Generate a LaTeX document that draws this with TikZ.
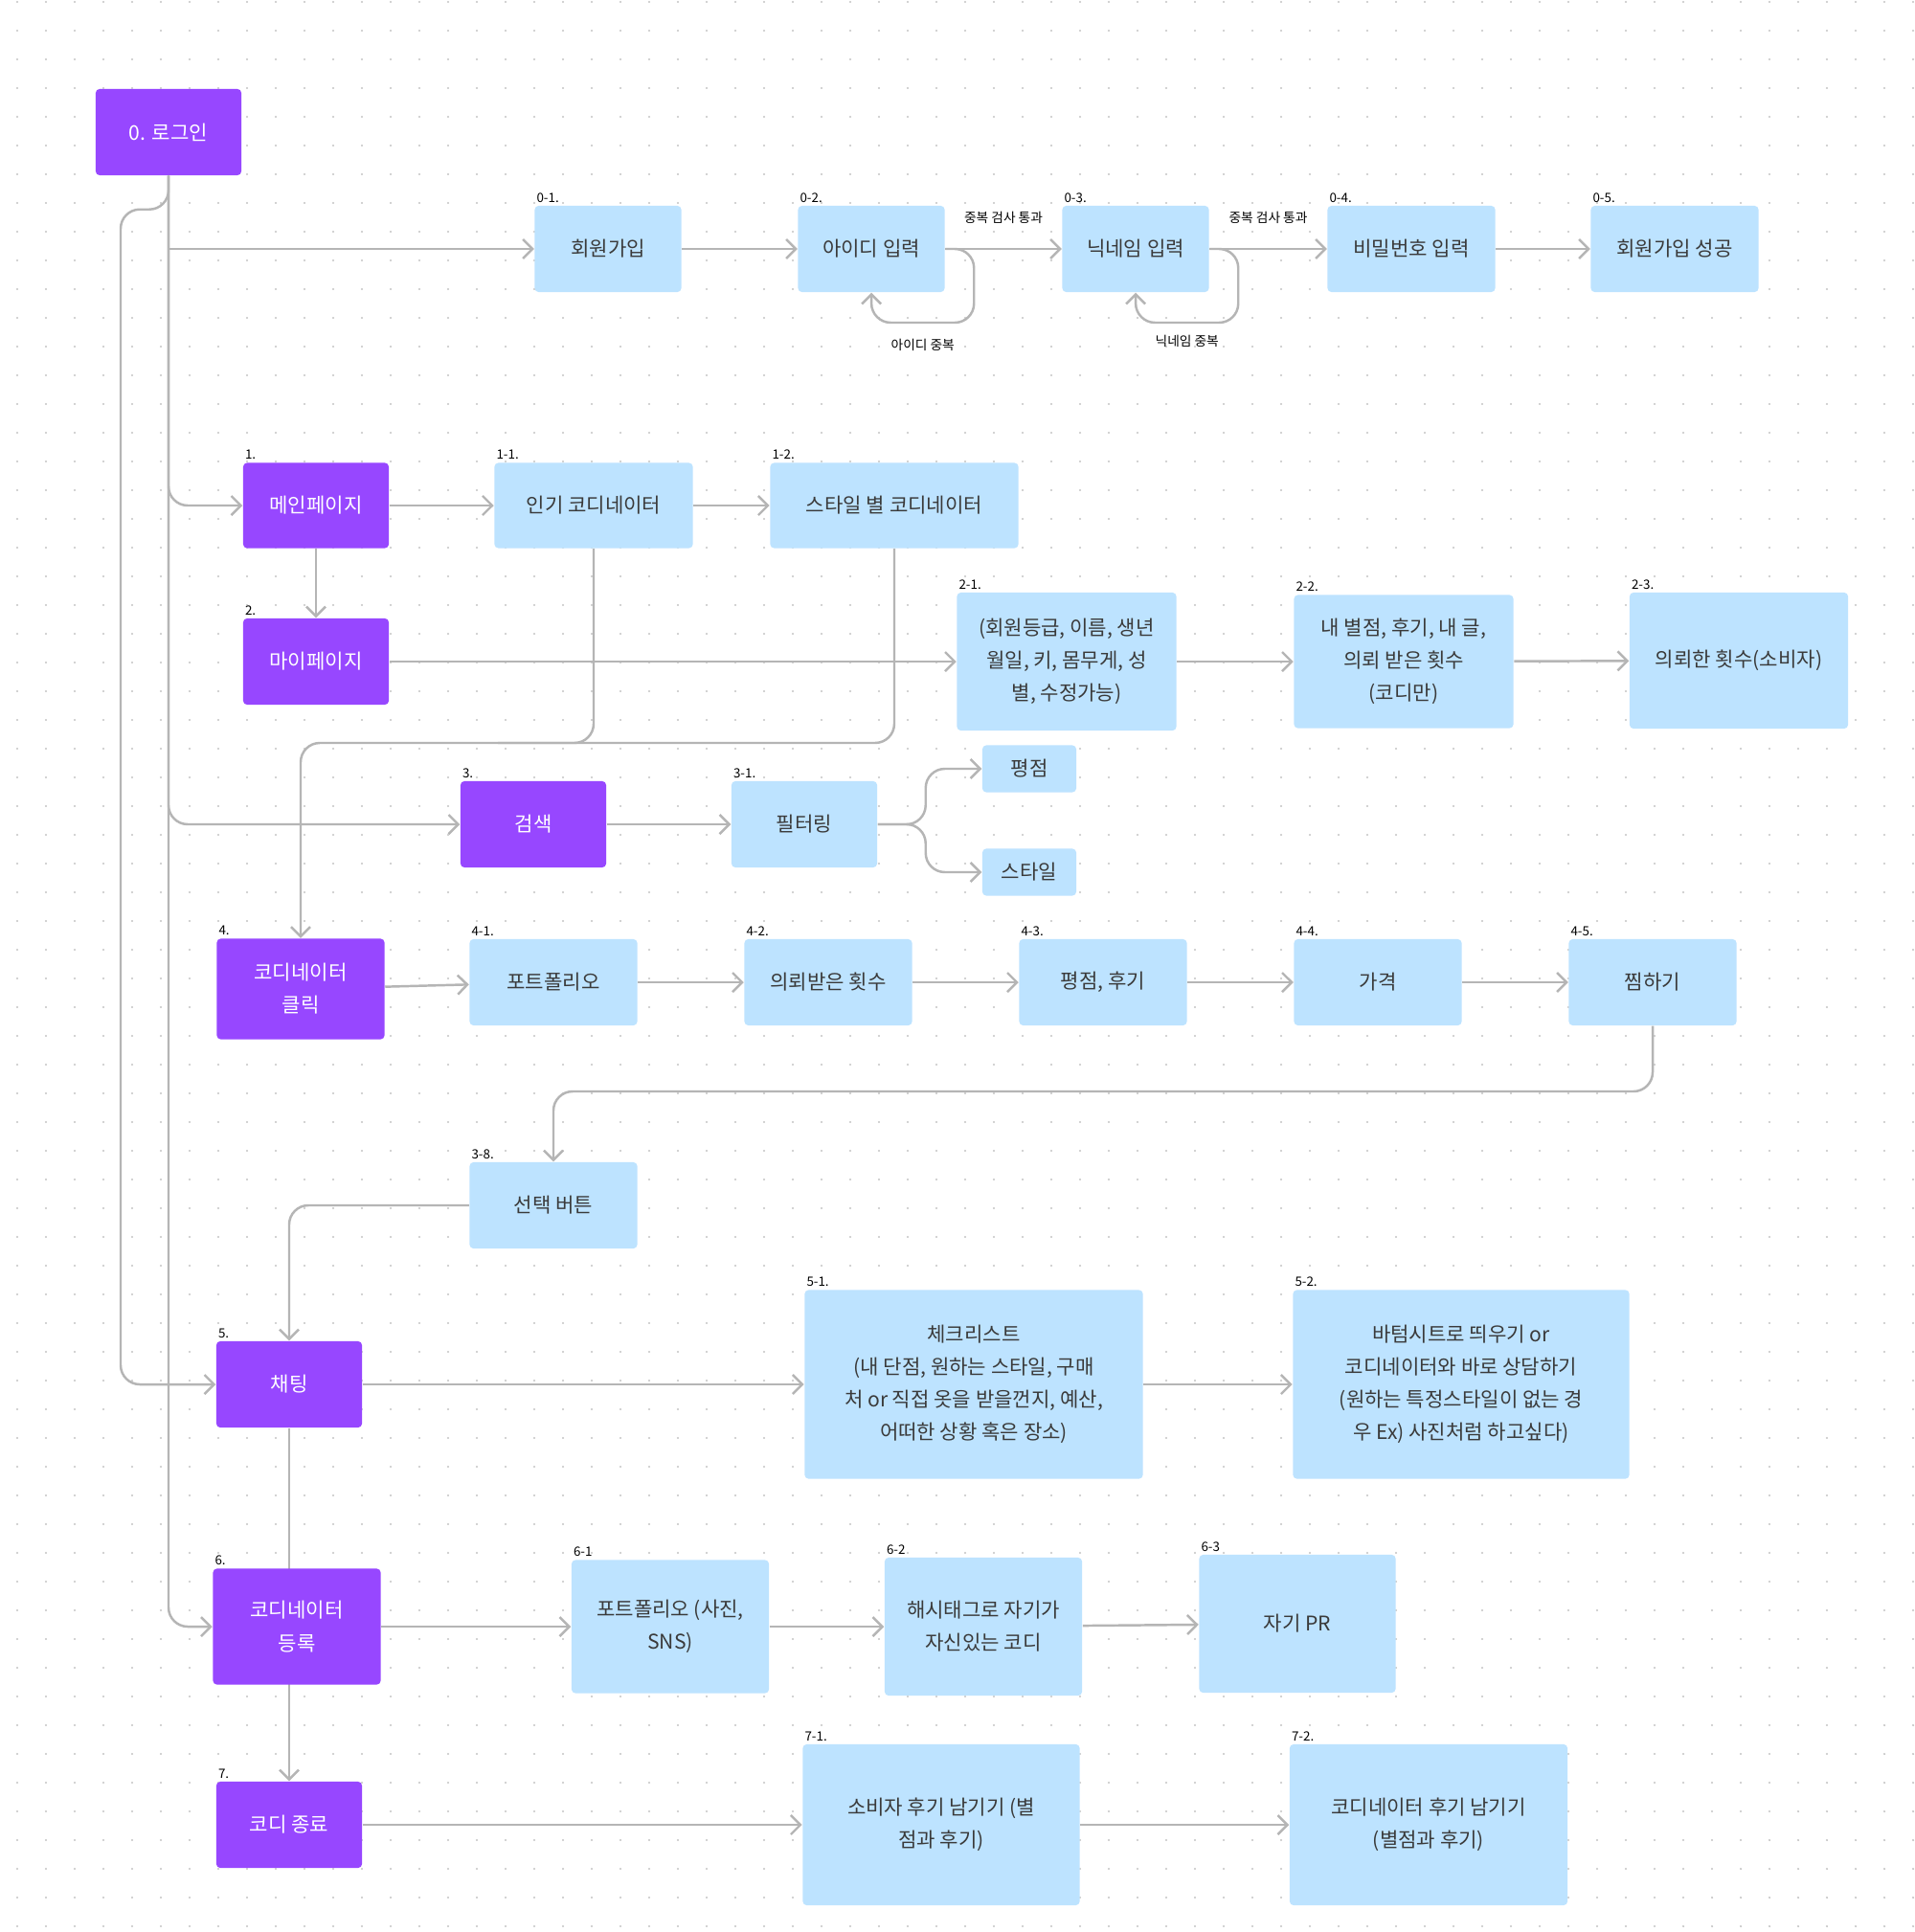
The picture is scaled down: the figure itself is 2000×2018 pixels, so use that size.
\documentclass[tikz,border=0pt]{standalone}
\usepackage{fontspec}
\setmainfont{Noto Sans CJK KR}
\usetikzlibrary{positioning,arrows.meta,backgrounds}
\definecolor{pagepurple}{HTML}{9747FF}
\definecolor{itemblue}{HTML}{BDE3FF}
\definecolor{linegray}{HTML}{B5B5B5}
\definecolor{textgray}{HTML}{3A3A3A}
\definecolor{dotgray}{HTML}{C4C4C4}

\begin{document}
\begin{tikzpicture}[x=0.01cm, y=-0.01cm,
    box/.style={rounded corners=0.04cm, inner sep=0pt, align=center, font=\fontsize{6}{9.7}\selectfont},
    page/.style={box, fill=pagepurple, text=white},
    item/.style={box, fill=itemblue, text=textgray},
    tag/.style={anchor=south west, inner sep=0.6pt, font=\fontsize{3.8}{4}\selectfont},
    note/.style={inner sep=1pt, text=black, font=\fontsize{3.9}{4}\selectfont},
    arrow/.style={-{Straight Barb[length=0.1cm, width=0.2cm]}, line width=0.7pt, linegray, rounded corners=0.2cm},
    link/.style={line width=0.7pt, linegray, rounded corners=0.2cm}
]
\useasboundingbox (0,0) rectangle (2000,2018);

% Pages (purple)
\node[page, minimum width=1.52cm, minimum height=0.90cm] (login) at (176,138) {0. 로그인};
\node[page, minimum width=1.52cm, minimum height=0.89cm] (main) at (330,528) {메인페이지};
\node[page, minimum width=1.52cm, minimum height=0.90cm] (my) at (330,691) {마이페이지};
\node[page, minimum width=1.52cm, minimum height=0.90cm] (search) at (557,861) {검색};
\node[page, minimum width=1.75cm, minimum height=1.05cm] (coclick) at (314,1033) {코디네이터\\클릭};
\node[page, minimum width=1.52cm, minimum height=0.90cm] (chat) at (302,1446) {채팅};
\node[page, minimum width=1.75cm, minimum height=1.21cm] (coreg) at (310,1699) {코디네이터\\등록};
\node[page, minimum width=1.52cm, minimum height=0.90cm] (finish) at (302,1906) {코디 종료};

% Sign up
\node[item, minimum width=1.53cm, minimum height=0.90cm] (s01) at (635,260) {회원가입};
\node[item, minimum width=1.53cm, minimum height=0.90cm] (s02) at (910,260) {아이디 입력};
\node[item, minimum width=1.53cm, minimum height=0.90cm] (s03) at (1186,260) {닉네임 입력};
\node[item, minimum width=1.75cm, minimum height=0.90cm] (s04) at (1474,260) {비밀번호 입력};
\node[item, minimum width=1.75cm, minimum height=0.90cm] (s05) at (1749,260) {회원가입 성공};

% Main page / my page
\node[item, minimum width=2.07cm, minimum height=0.89cm] (p11) at (620,528) {인기 코디네이터};
\node[item, minimum width=2.59cm, minimum height=0.89cm] (p12) at (934,528) {스타일 별 코디네이터};
\node[item, minimum width=2.29cm, minimum height=1.44cm] (m21) at (1114,691) {(회원등급, 이름, 생년\\월일, 키, 몸무게, 성\\별, 수정가능)};
\node[item, minimum width=2.29cm, minimum height=1.39cm] (m22) at (1466,691) {내 별점, 후기, 내 글,\\의뢰 받은 횟수\\(코디만)};
\node[item, minimum width=2.28cm, minimum height=1.42cm] (m23) at (1816,690) {의뢰한 횟수(소비자)};

% Search
\node[item, minimum width=1.52cm, minimum height=0.90cm] (filter) at (840,861) {필터링};
\node[item, minimum width=0.98cm, minimum height=0.49cm] (frate) at (1075,803) {평점};
\node[item, minimum width=0.98cm, minimum height=0.49cm] (fstyle) at (1075,911) {스타일};

% Coordinator detail
\node[item, minimum width=1.75cm, minimum height=0.90cm] (c41) at (578,1026) {포트폴리오};
\node[item, minimum width=1.75cm, minimum height=0.90cm] (c42) at (865,1026) {의뢰받은 횟수};
\node[item, minimum width=1.75cm, minimum height=0.90cm] (c43) at (1152,1026) {평점, 후기};
\node[item, minimum width=1.75cm, minimum height=0.90cm] (c44) at (1439,1026) {가격};
\node[item, minimum width=1.75cm, minimum height=0.90cm] (c45) at (1726,1026) {찜하기};
\node[item, minimum width=1.75cm, minimum height=0.90cm] (sel) at (578,1259) {선택 버튼};

% Chat
\node[item, minimum width=3.53cm, minimum height=1.97cm] (ch51) at (1017,1446) {체크리스트\\(내 단점, 원하는 스타일, 구매\\처 or 직접 옷을 받을껀지, 예산,\\어떠한 상황 혹은 장소)};
\node[item, minimum width=3.51cm, minimum height=1.97cm] (ch52) at (1526,1446) {바텀시트로 띄우기 or\\코디네이터와 바로 상담하기\\(원하는 특정스타일이 없는 경\\우 Ex) 사진처럼 하고싶다)};

% Coordinator sign up
\node[item, minimum width=2.06cm, minimum height=1.39cm] (r61) at (700,1699) {포트폴리오 (사진,\\SNS)};
\node[item, minimum width=2.06cm, minimum height=1.44cm] (r62) at (1027,1699) {해시태그로 자기가\\자신있는 코디};
\node[item, minimum width=2.05cm, minimum height=1.44cm] (r63) at (1355,1696) {자기 PR};

% End
\node[item, minimum width=2.89cm, minimum height=1.68cm] (e71) at (983,1906) {소비자 후기 남기기 (별\\점과 후기)};
\node[item, minimum width=2.90cm, minimum height=1.68cm] (e72) at (1492,1906) {코디네이터 후기 남기기\\(별점과 후기)};

% Number tags
\node[tag] (t01) at (s01.north west) {0-1.};
\node[tag] (t02) at (s02.north west) {0-2.};
\node[tag] (t03) at (s03.north west) {0-3.};
\node[tag] (t04) at (s04.north west) {0-4.};
\node[tag] (t05) at (s05.north west) {0-5.};
\node[tag] (t1) at (main.north west) {1.};
\node[tag] (t11) at (p11.north west) {1-1.};
\node[tag] (t12) at (p12.north west) {1-2.};
\node[tag] (t2) at (my.north west) {2.};
\node[tag] (t21) at (m21.north west) {2-1.};
\node[tag] (t22) at (m22.north west) {2-2.};
\node[tag] (t23) at (m23.north west) {2-3.};
\node[tag] (t3) at (search.north west) {3.};
\node[tag] (t31) at (filter.north west) {3-1.};
\node[tag] (t4) at (coclick.north west) {4.};
\node[tag] (t41) at (c41.north west) {4-1.};
\node[tag] (t42) at (c42.north west) {4-2.};
\node[tag] (t43) at (c43.north west) {4-3.};
\node[tag] (t44) at (c44.north west) {4-4.};
\node[tag] (t45) at (c45.north west) {4-5.};
\node[tag] (t38) at (sel.north west) {3-8.};
\node[tag] (t5) at (chat.north west) {5.};
\node[tag] (t51) at (ch51.north west) {5-1.};
\node[tag] (t52) at (ch52.north west) {5-2.};
\node[tag] (t6) at (coreg.north west) {6.};
\node[tag] (t61) at (r61.north west) {6-1};
\node[tag] (t62) at (r62.north west) {6-2};
\node[tag] (t63) at (r63.north west) {6-3};
\node[tag] (t7) at (finish.north west) {7.};
\node[tag] (t71) at (e71.north west) {7-1.};
\node[tag] (t72) at (e72.north west) {7-2.};

% Bend points
\coordinate (jn) at (314,776);
\coordinate (jn1) at (520,776);
\coordinate (turn45) at (578,1140);

% Trunk from login
\draw[arrow, rounded corners=0pt] (login.south) |- (s01.west);
\draw[arrow] (login.south) |- (main.west);
\draw[arrow] (login.south) |- (search.west);
\draw[arrow] (login.south) |- (coreg.west);
\draw[arrow] (login.south) -- ++(0,35) -- ++(-50,0) |- (chat.west);

% Sign up flow
\draw[arrow] (s01) -- (s02);
\draw[arrow] (s02) -- node[note, above=0.22cm] {중복 검사 통과} (s03);
\draw[arrow] (s03) -- node[note, above=0.22cm] {중복 검사 통과} (s04);
\draw[arrow] (s04) -- (s05);
\draw[arrow] (s02.east) -- ++(30,0) -- ++(0,77) -- node[note, below=0.12cm] {아이디 중복} ++(-107,0) -- (s02.south);
\draw[arrow] (s03.east) -- ++(30,0) -- ++(0,77) -- node[note, below=0.08cm] {닉네임 중복} ++(-107,0) -- (s03.south);

% Main page
\draw[arrow] (main) -- (p11);
\draw[arrow] (p11) -- (p12);
\draw[arrow] (main) -- (my);
\draw[arrow] (my) -- (m21);
\draw[arrow] (m21) -- (m22);
\draw[arrow] (m22) -- (m23);
\draw[link] (p11.south) |- (jn1);
\draw[arrow] (p12.south) |- (jn) -- (coclick.north);

% Search
\draw[arrow] (search) -- (filter);
\draw[arrow] (filter.east) -- ++(50,0) |- (frate.west);
\draw[arrow] (filter.east) -- ++(50,0) |- (fstyle.west);

% Coordinator detail
\draw[arrow] (coclick) -- (c41);
\draw[arrow] (c41) -- (c42);
\draw[arrow] (c42) -- (c43);
\draw[arrow] (c43) -- (c44);
\draw[arrow] (c44) -- (c45);
\draw[arrow] (c45.south) |- (turn45) -- (sel.north);
\draw[arrow] (sel.west) -| (chat.north);

% Chat, sign up, end
\draw[arrow] (chat) -- (ch51);
\draw[arrow] (ch51) -- (ch52);
\draw[arrow] (coreg) -- (r61);
\draw[arrow] (r61) -- (r62);
\draw[arrow] (r62) -- (r63);
\draw[arrow] (finish) -- (e71);
\draw[arrow] (e71) -- (e72);

\begin{scope}[on background layer]
  \fill[white] (0,0) rectangle (2000,2018);
  \foreach \i in {0,...,66}
    \foreach \j in {0,...,67}
      \fill[dotgray] (18+30*\i, 2+30*\j) circle (0.012cm);
  \draw[arrow] (chat.south) -- (finish.north);
\end{scope}

\end{tikzpicture}
\end{document}
